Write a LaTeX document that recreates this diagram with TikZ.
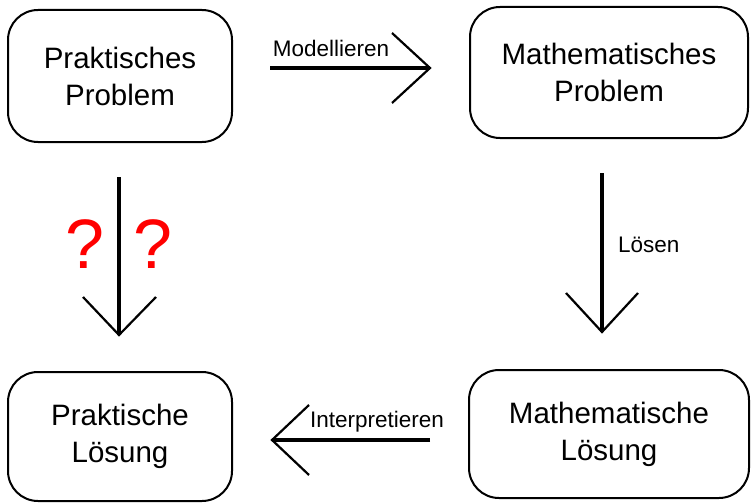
\documentclass[tikz,border=0pt]{standalone}
\usepackage{fontspec}
\setmainfont{Liberation Sans}
\usetikzlibrary{calc}
\tikzset{
  box/.style={draw=black, line width=2pt, rounded corners=30pt, align=center,
    font=\fontsize{29.5}{37}\selectfont, inner sep=0pt},
  shaft/.style={line width=4pt},
  arm/.style={line width=2.2pt},
  lbl/.style={font=\fontsize{22.5}{27}\selectfont, inner sep=0pt},
  qmark/.style={text=red, font=\fontsize{70}{76}\selectfont, inner sep=0pt}
}
\begin{document}
\begin{tikzpicture}[x=1pt, y=-1pt]
\useasboundingbox (0,0) rectangle (753,503);
\node[box, minimum width=224pt, minimum height=132pt] (pp) at (120,76) {Praktisches\\Problem};
\node[box, minimum width=278pt, minimum height=131pt] (mp) at (609,72.5) {Mathematisches\\Problem};
\node[box, minimum width=224pt, minimum height=129pt] (pl) at (120,436.5) {Praktische\\Lösung};
\node[box, minimum width=280pt, minimum height=128pt] (ml) at (609,434) {Mathematische\\Lösung};

% Modellieren
\coordinate (m1) at (270,68);
\coordinate (m2) at (430,68);
\draw[shaft] (m1) -- (m2);
\draw[arm] ($(m2)+(-38,-35)$) -- (m2) -- ($(m2)+(-38,35)$);
\node[lbl, anchor=base] (lm) at (331,57) {Modellieren};

% Loesen
\coordinate (l1) at (602,173);
\coordinate (l2) at (602,332);
\draw[shaft] (l1) -- (l2);
\draw[arm] ($(l2)+(-36,-39)$) -- (l2) -- ($(l2)+(36,-39)$);
\node[lbl, anchor=base west] (ll) at (618,252) {Lösen};

% Interpretieren
\coordinate (i1) at (430,440);
\coordinate (i2) at (272,440);
\draw[shaft] (i1) -- (i2);
\draw[arm] ($(i2)+(37,-35)$) -- (i2) -- ($(i2)+(37,35)$);
\node[lbl, anchor=base west] (li) at (310,427) {Interpretieren};

% ? arrow
\coordinate (q1) at (119,177);
\coordinate (q2) at (119,335);
\draw[shaft] (q1) -- (q2);
\draw[arm] ($(q2)+(-36,-38)$) -- (q2) -- ($(q2)+(37,-38)$);
\node[qmark] (qa) at (85,244) {?};
\node[qmark] (qb) at (153,244) {?};
\end{tikzpicture}
\end{document}
